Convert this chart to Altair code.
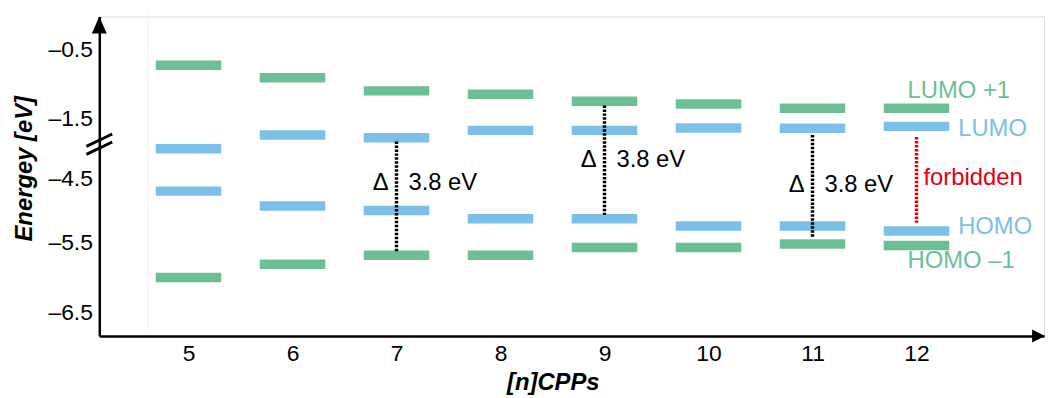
import altair as alt
import pandas as pd

# ---------------- data ----------------
n_values = [5, 6, 7, 8, 9, 10, 11, 12]
lumo_plus1 = [-0.73, -0.91, -1.10, -1.15, -1.25, -1.29, -1.35, -1.35]
lumo = [-3.02, -2.32, -2.46, -2.09, -2.09, -1.97, -1.98, -1.89]
homo = [-4.70, -4.93, -5.00, -5.13, -5.13, -5.24, -5.24, -5.32]
homo_minus1 = [-6.00, -5.81, -5.68, -5.68, -5.57, -5.57, -5.52, -5.54]

level_names = ["LUMO +1", "LUMO", "HOMO", "HOMO –1"]
level_colors = ["#6cbf94", "#7cbfe9", "#7cbfe9", "#6cbf94"]

gap_n = [7, 9, 11]
gap_top = [-2.65, -1.31, -2.32]
gap_bottom = [-5.63, -5.07, -5.41]
gap_label_y = [-4.58, -3.60, -4.61]
gap_label = "Δ\u00a0\u00a0\u00a03.8 eV"

forbidden_n = [12]
forbidden_top = [-2.43]
forbidden_bottom = [-5.19]
forbidden_label_y = [-4.50]
forbidden_label = ["forbidden"]

label_n = 12
level_label_y = [-1.10, -2.00, -5.25, -5.77]

y_ticks = [-6.5, -5.5, -4.5, -1.5, -0.5]
x_ticks = n_values

# ---------------- tables ----------------
bars = pd.DataFrame({
    "n": n_values * 4,
    "E": lumo_plus1 + lumo + homo + homo_minus1,
    "level": sum([[name] * len(n_values) for name in level_names], []),
})
gaps = pd.DataFrame({"n": gap_n, "E": gap_top, "E2": gap_bottom})
gap_labels = pd.DataFrame({"n": gap_n, "E": gap_label_y, "label": [gap_label] * len(gap_n)})
forb = pd.DataFrame({"n": forbidden_n, "E": forbidden_top, "E2": forbidden_bottom})
forb_label = pd.DataFrame({"n": forbidden_n, "E": forbidden_label_y, "label": forbidden_label})
lvl_labels = pd.DataFrame({"n": [label_n] * 4, "E": level_label_y, "level": level_names})
one = pd.DataFrame({"k": [0]})

FONT = "Liberation Sans"

# ---------------- scales / axes ----------------
x_scale = alt.Scale(domain=[4.1422, 13.2262], nice=False, zero=False)
y_scale = alt.Scale(
    domain=[-6.843, -6.5, -5.5, -4.5, -1.5, -0.5, -0.029],
    range=[322, 298, 228, 163, 103, 33, 0],
    nice=False, zero=False,
)
color_scale = alt.Scale(domain=level_names, range=level_colors)

x_axis = alt.Axis(
    values=x_ticks, format="d", ticks=False, tickSize=0, grid=False,
    domainColor="black", domainWidth=2.5, labelFontSize=23, labelFont=FONT,
    labelColor="black", labelPadding=7, labelFlush=False,
    title="[n]CPPs", titleFont=FONT, titleFontSize=24, titleFontWeight="bold",
    titleFontStyle="italic", titleColor="black", titleX=457, titleY=54,
    titleAlign="center", titleBaseline="alphabetic",
)
y_axis = alt.Axis(
    values=y_ticks, ticks=False, tickSize=0, grid=False,
    labelExpr="(datum.value < 0 ? '–' : '') + format(abs(datum.value), '.1f')",
    domainColor="black", domainWidth=2.5, labelFontSize=23, labelFont=FONT,
    labelColor="black", labelPadding=7, labelOverlap=False, labelFlush=False,
    title="Energey [eV]", titleFont=FONT, titleFontSize=24, titleFontWeight="bold",
    titleFontStyle="italic", titleColor="black", titleX=-68, titleY=153,
    titleAngle=270, titleAlign="center", titleBaseline="alphabetic",
)

X = alt.X("n:Q", scale=x_scale, axis=x_axis)
Y = alt.Y("E:Q", scale=y_scale, axis=y_axis)

# ---------------- layers ----------------
faint = alt.Chart(one).mark_rule(color="#f2f2f2", strokeWidth=1).encode(
    x=alt.value(49), y=alt.value(-7), y2=alt.value(315))

levels = alt.Chart(bars).mark_tick(orient="horizontal", size=66, thickness=9.5, opacity=1).encode(
    x=X, y=Y,
    color=alt.Color("level:N", scale=color_scale, legend=None),
)

gap_lines = alt.Chart(gaps).mark_rule(color="black", strokeWidth=3.5, strokeDash=[2.5, 1.5]).encode(
    x=X, y=Y, y2="E2:Q")
forb_line = alt.Chart(forb).mark_rule(color="#e3000f", strokeWidth=3.5, strokeDash=[2.5, 1.5]).encode(
    x=X, y=Y, y2="E2:Q")

gap_text = alt.Chart(gap_labels).mark_text(
    align="left", baseline="middle", dx=-24, fontSize=24, font=FONT, color="black").encode(
    x=X, y=Y, text="label:N")
forb_text = alt.Chart(forb_label).mark_text(
    align="left", baseline="middle", dx=7, fontSize=24, font=FONT, color="#e3000f").encode(
    x=X, y=Y, text="label:N")

left_labels = alt.Chart(lvl_labels).transform_filter(
    alt.FieldOneOfPredicate(field="level", oneOf=["LUMO +1", "HOMO –1"])
).mark_text(align="left", baseline="middle", dx=-9, fontSize=24, font=FONT).encode(
    x=X, y=Y, text="level:N",
    color=alt.Color("level:N", scale=color_scale, legend=None))
right_labels = alt.Chart(lvl_labels).transform_filter(
    alt.FieldOneOfPredicate(field="level", oneOf=["LUMO", "HOMO"])
).mark_text(align="left", baseline="middle", dx=42, fontSize=24, font=FONT).encode(
    x=X, y=Y, text="level:N",
    color=alt.Color("level:N", scale=color_scale, legend=None))

y_arrow = alt.Chart(one).mark_point(
    shape="M-1,2.3L0,0L1,2.3Z", filled=True, size=225, color="black", opacity=1, strokeWidth=0
).encode(x=alt.value(0), y=alt.value(0))
x_arrow = alt.Chart(one).mark_point(
    shape="M0,0L-2,-1L-2,1Z", filled=True, size=169, color="black", opacity=1, strokeWidth=0
).encode(x=alt.value(953), y=alt.value(322))

brk1 = alt.Chart(one).mark_rule(color="black", strokeWidth=3).encode(
    x=alt.value(-13), x2=alt.value(13), y=alt.value(131), y2=alt.value(118.5))
brk2 = alt.Chart(one).mark_rule(color="black", strokeWidth=3).encode(
    x=alt.value(-13), x2=alt.value(13), y=alt.value(139), y2=alt.value(126.5))

chart = alt.layer(
    faint, levels, gap_lines, forb_line, gap_text, forb_text,
    left_labels, right_labels, y_arrow, x_arrow, brk1, brk2,
).properties(
    width=952, height=322,
    autosize=alt.AutoSizeParams(type="none"),
    padding={"left": 92, "top": 7, "right": 3, "bottom": 61},
).configure_view(strokeWidth=0).configure(background="white")

chart.save("out.html", embed_options={"renderer": "svg", "actions": False})
